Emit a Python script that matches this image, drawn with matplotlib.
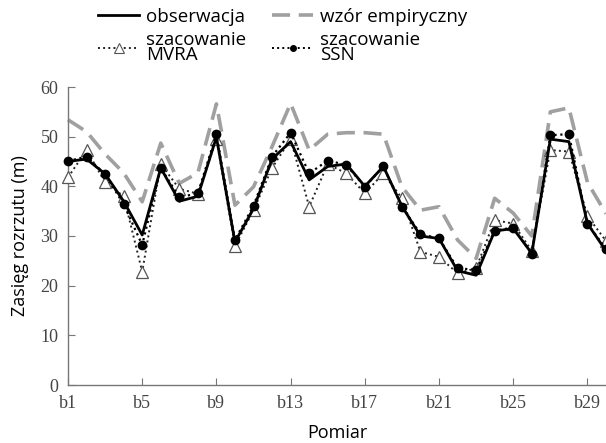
import numpy as np
import matplotlib.pyplot as plt
from matplotlib.lines import Line2D

# pomiary b1..b30
labels = [f"b{i}" for i in range(1, 31)]
obserwacja = [45.0, 45.5, 42.5, 37.0, 30.2, 43.7, 37.0, 38.0, 49.9, 28.8,
              35.5, 45.5, 49.0, 41.3, 44.0, 44.5, 40.0, 44.0, 36.0, 30.0,
              29.5, 23.0, 22.1, 31.0, 31.5, 26.5, 49.5, 49.0, 32.5, 27.0]
wzor_emp = [53.4, 51.0, 46.5, 42.7, 36.9, 48.7, 40.6, 42.7, 56.6, 36.2,
            39.9, 48.0, 56.7, 47.3, 50.5, 50.8, 50.8, 50.5, 39.9, 35.2,
            35.9, 29.2, 25.5, 37.6, 34.6, 30.0, 55.0, 55.8, 40.8, 34.5]
mvra = [41.8, 47.3, 40.8, 38.0, 22.8, 44.5, 39.5, 38.5, 49.5, 28.0,
        35.2, 43.7, 49.5, 35.9, 44.5, 42.6, 38.6, 42.6, 37.6, 26.8,
        25.8, 22.5, 23.5, 33.2, 32.5, 27.0, 47.3, 47.0, 34.0, 29.0]
ssn = [45.1, 46.0, 42.4, 36.4, 28.2, 43.7, 37.8, 38.6, 50.5, 29.2,
       36.1, 46.0, 50.8, 42.6, 45.2, 44.3, 39.9, 44.0, 35.9, 30.4,
       29.5, 23.5, 23.2, 31.1, 31.7, 26.4, 50.3, 50.5, 32.5, 27.4]

x = np.arange(1, len(labels) + 1)

fig = plt.figure(figsize=(6.06, 4.43), dpi=100)
ax = fig.add_axes([68 / 606, 58 / 443, 538 / 606, 298 / 443])

grey = '#a0a0a0'
dash = (0, (5, 2.4))
ax.plot(x, wzor_emp, color=grey, lw=2.6, linestyle=dash, zorder=2,
        clip_on=False)
ax.plot(x, mvra, color='#222222', lw=1.4, linestyle=':', marker='^', ms=8,
        mfc='white', mec='#555555', mew=0.9, zorder=3, clip_on=False)
ax.plot(x, obserwacja, color='black', lw=2.0, zorder=4, clip_on=False)
ax.plot(x, ssn, color='black', lw=1.6, linestyle=':', marker='o', ms=6,
        mfc='black', mec='black', zorder=5, clip_on=False)

ax.set_xlim(1, 30)
ax.set_ylim(0, 60)
ax.set_xticks(x[::4])
ax.set_xticklabels(labels[::4])
ax.set_xticks([30], minor=True)
ax.set_yticks(range(0, 61, 10))

for side in ['top', 'right']:
    ax.spines[side].set_visible(False)
for side in ['left', 'bottom']:
    ax.spines[side].set_color('#777777')
    ax.spines[side].set_linewidth(1.0)
ax.tick_params(which='both', direction='in', length=5, color='#777777',
               labelsize=13, labelcolor='#444444', pad=7)
for lab in ax.get_xticklabels() + ax.get_yticklabels():
    lab.set_fontfamily('Liberation Serif')

ax.set_xlabel('Pomiar', fontsize=13, family='Open Sans', labelpad=9)
ax.set_ylabel('Zasięg rozrzutu (m)', fontsize=13, family='Open Sans',
              labelpad=8)

handles = [
    Line2D([], [], color='black', lw=2.0),
    Line2D([], [], color='#222222', lw=1.4, linestyle=':', marker='^', ms=7,
           mfc='white', mec='#555555', mew=0.8),
    Line2D([], [], color=grey, lw=2.6, linestyle=dash),
    Line2D([], [], color='black', lw=1.4, linestyle=':', marker='o', ms=4,
           mfc='black'),
]
names = ['obserwacja', 'szacowanie\nMVRA', 'wzór empiryczny', 'szacowanie\nSSN']
leg = fig.legend(handles, names, ncol=2, loc='upper left',
                 bbox_to_anchor=(81 / 606, 1.02), frameon=False,
                 prop={'family': 'Open Sans', 'size': 13.5},
                 handlelength=2.2, handletextpad=0.35, columnspacing=1.4,
                 labelspacing=0.25)
for t in leg.get_texts():
    t.set_linespacing(0.78)

fig.savefig('out.png', dpi=100)
